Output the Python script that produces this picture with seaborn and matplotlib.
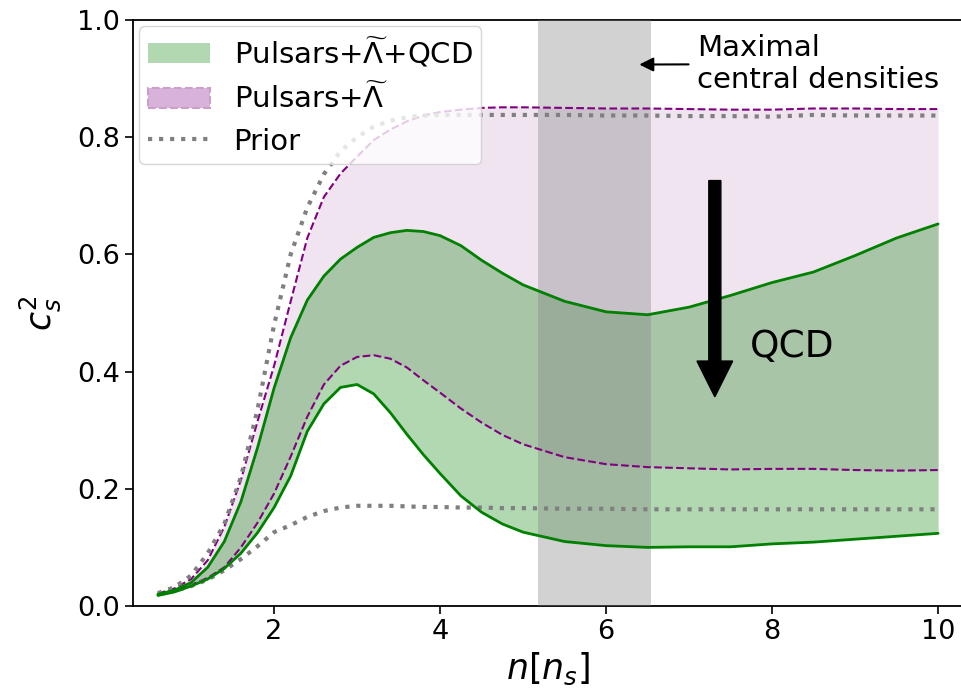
import numpy as np
import pandas as pd
import matplotlib
matplotlib.use("Agg")
import matplotlib.pyplot as plt
from matplotlib.patches import Patch
from matplotlib.lines import Line2D
import seaborn as sns

# ---- data ----
n = [0.6, 0.8, 1.0, 1.2, 1.4, 1.6, 1.8, 2.0, 2.2, 2.4, 2.6, 2.8, 3.0, 3.2, 3.4,
     3.6, 3.8, 4.0, 4.25, 4.5, 4.75, 5.0, 5.5, 6.0, 6.5, 7.0, 7.5, 8.0, 8.5,
     9.0, 9.5, 10.0]

qcd_hi = [0.020, 0.027, 0.040, 0.066, 0.110, 0.178, 0.270, 0.372, 0.458, 0.522,
          0.563, 0.592, 0.612, 0.629, 0.637, 0.641, 0.639, 0.632, 0.615, 0.590,
          0.568, 0.548, 0.520, 0.502, 0.497, 0.510, 0.530, 0.552, 0.570, 0.598,
          0.628, 0.652]
qcd_lo = [0.018, 0.024, 0.034, 0.046, 0.064, 0.090, 0.125, 0.168, 0.222, 0.298,
          0.345, 0.373, 0.378, 0.362, 0.330, 0.293, 0.258, 0.226, 0.188, 0.160,
          0.140, 0.126, 0.110, 0.103, 0.100, 0.101, 0.101, 0.106, 0.109, 0.114,
          0.119, 0.124]
lam_hi = [0.021, 0.030, 0.046, 0.078, 0.135, 0.215, 0.315, 0.410, 0.520, 0.628,
          0.698, 0.738, 0.767, 0.795, 0.813, 0.827, 0.837, 0.843, 0.847, 0.850,
          0.851, 0.851, 0.850, 0.849, 0.849, 0.848, 0.847, 0.847, 0.849, 0.849,
          0.848, 0.848]
lam_lo = [0.018, 0.025, 0.036, 0.048, 0.066, 0.100, 0.142, 0.192, 0.255, 0.323,
          0.378, 0.410, 0.425, 0.428, 0.422, 0.407, 0.385, 0.364, 0.337, 0.313,
          0.292, 0.276, 0.254, 0.242, 0.237, 0.235, 0.233, 0.234, 0.234, 0.232,
          0.231, 0.232]
prior_hi = [0.022, 0.032, 0.052, 0.090, 0.140, 0.220, 0.335, 0.480, 0.600, 0.680,
            0.737, 0.776, 0.800, 0.818, 0.828, 0.834, 0.837, 0.838, 0.838, 0.838,
            0.838, 0.838, 0.838, 0.837, 0.837, 0.836, 0.836, 0.835, 0.838, 0.837,
            0.837, 0.837]
prior_lo = [0.020, 0.026, 0.034, 0.045, 0.061, 0.080, 0.102, 0.126, 0.138, 0.152,
            0.162, 0.168, 0.171, 0.171, 0.171, 0.170, 0.169, 0.169, 0.168, 0.168,
            0.167, 0.167, 0.166, 0.166, 0.165, 0.165, 0.165, 0.165, 0.165, 0.165,
            0.165, 0.165]

band_lo, band_hi = 5.18, 6.54          # maximal central densities
x_ticks = [2, 4, 6, 8, 10]
y_ticks = [0.0, 0.2, 0.4, 0.6, 0.8, 1.0]
labels = [r"Pulsars+$\widetilde{\Lambda}$+QCD", r"Pulsars+$\widetilde{\Lambda}$", "Prior"]

# ---- style ----
sns.set_theme(style="ticks")
plt.rcParams["font.family"] = ["DejaVu Sans"]
plt.rcParams["mathtext.fontset"] = "dejavusans"
for k in ["text.color", "axes.labelcolor", "xtick.color", "ytick.color",
          "axes.edgecolor"]:
    plt.rcParams[k] = "black"

PLUM = (216 / 255, 178 / 255, 216 / 255)

fig = plt.figure(figsize=(9.61, 6.95), dpi=100)
ax = fig.add_axes([133 / 961, 1 - 606 / 695, (963 - 133) / 961, (606 - 20) / 695])

df = pd.DataFrame({"n": n, "qcd_hi": qcd_hi, "qcd_lo": qcd_lo, "lam_hi": lam_hi,
                   "lam_lo": lam_lo, "prior_hi": prior_hi, "prior_lo": prior_lo})

ax.fill_between(df["n"], df["lam_lo"], df["lam_hi"], color=PLUM, alpha=0.35,
                lw=0, zorder=1)
ax.fill_between(df["n"], df["qcd_lo"], df["qcd_hi"], color="green", alpha=0.3,
                lw=0, zorder=2)
ax.axvspan(band_lo, band_hi, color="gray", alpha=0.35, lw=0, zorder=3)

for col in ["lam_hi", "lam_lo"]:
    sns.lineplot(data=df, x="n", y=col, ax=ax, color="purple", linestyle="--",
                 lw=1.5, zorder=4)
for col in ["prior_hi", "prior_lo"]:
    sns.lineplot(data=df, x="n", y=col, ax=ax, color="gray", linestyle=":",
                 lw=3, zorder=4)
for col in ["qcd_hi", "qcd_lo"]:
    sns.lineplot(data=df, x="n", y=col, ax=ax, color="green", linestyle="-",
                 lw=2, zorder=5)

# big QCD arrow
ax.arrow(7.31, 0.726, 0, -0.369, width=0.145, head_width=0.43,
         head_length=0.061, length_includes_head=True, color="black", zorder=6)
ax.text(7.73, 0.4425, "QCD", fontsize=27, ha="left", va="center", zorder=6)

ax.annotate("Maximal\ncentral densities", xy=(6.40, 0.924), xytext=(7.10, 0.925),
            fontsize=21, ha="left", va="center", linespacing=1.15,
            arrowprops=dict(arrowstyle="-|>", color="black", lw=1.5,
                            shrinkA=4, shrinkB=0), zorder=6)

ax.set_xlim(0.3, 10.3)
ax.set_ylim(0, 1)
ax.set_xticks(x_ticks)
ax.set_xticklabels([str(t) for t in x_ticks])
ax.set_yticks(y_ticks)
ax.set_yticklabels([f"{t:.1f}" for t in y_ticks])
ax.tick_params(labelsize=19.5, length=6, width=1.2, color="black")
for s in ax.spines.values():
    s.set_linewidth(1.3)
    s.set_color("black")

ax.set_xlabel(r"$n[n_s]$", fontsize=25, labelpad=4)
ax.set_ylabel(r"$c_s^2$", fontsize=25, labelpad=10)

handles = [Patch(facecolor=(0, 0.5, 0, 0.3), edgecolor="none"),
           Patch(facecolor=PLUM, edgecolor=(0.8, 0.62, 0.8), linestyle="--", lw=1.5),
           Line2D([], [], color="gray", linestyle=":", lw=3)]
ax.legend(handles, labels, loc="upper left", fontsize=21, borderaxespad=0.2,
          borderpad=0.3, labelspacing=0.45, handlelength=2.15, framealpha=0.8)

fig.savefig("out.png", dpi=100)
